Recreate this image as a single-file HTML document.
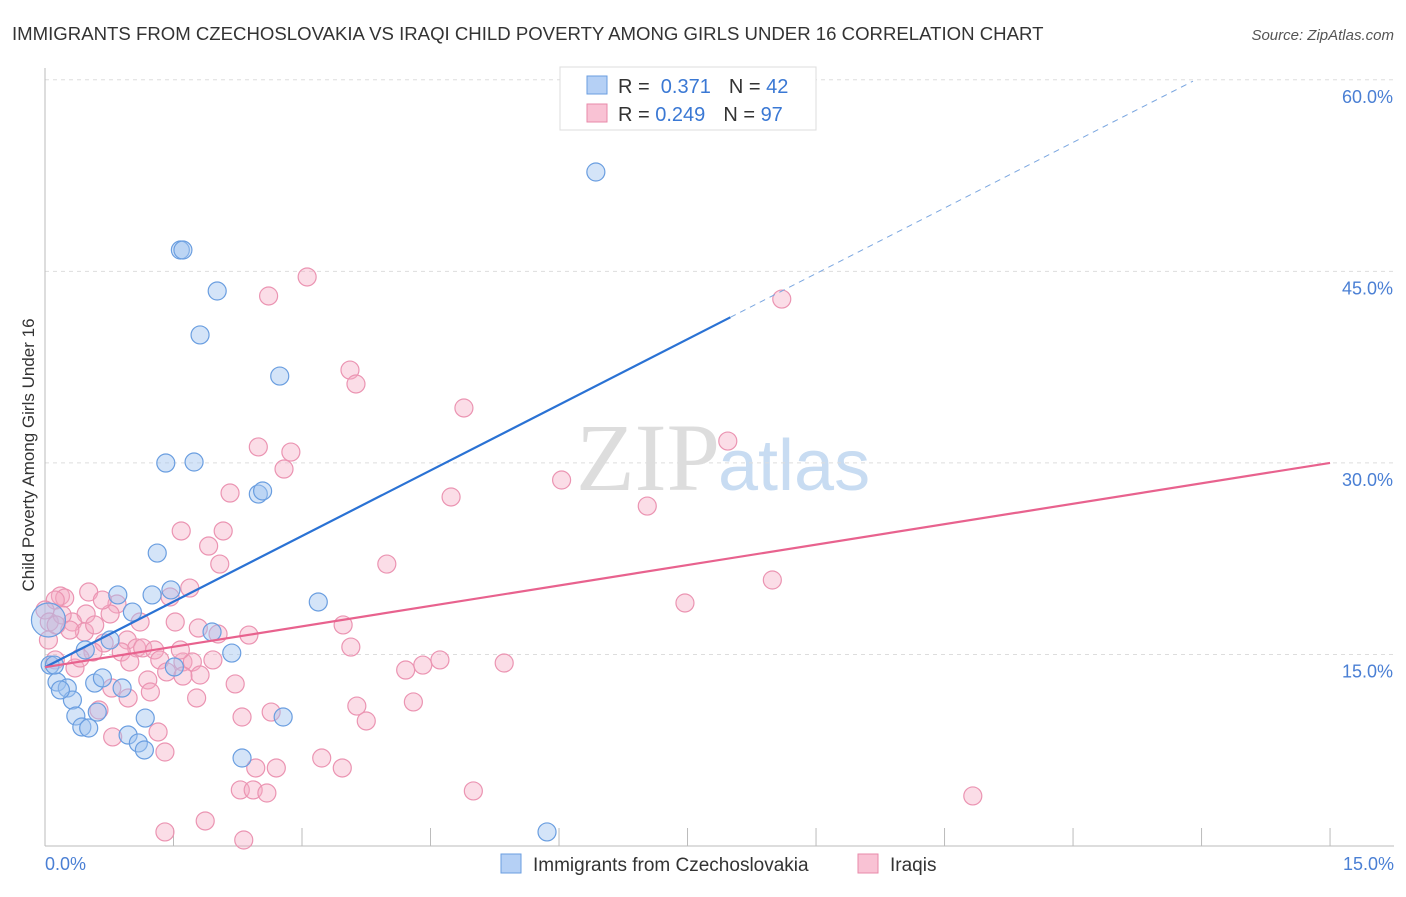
<!DOCTYPE html>
<html><head><meta charset="utf-8"><style>
body{margin:0;background:#fff;font-family:"Liberation Sans",sans-serif}
</style></head><body>
<svg width="1406" height="892" xmlns="http://www.w3.org/2000/svg" style="font-family:'Liberation Sans',sans-serif">
<text x="12" y="40" font-size="18.6" fill="#333">IMMIGRANTS FROM CZECHOSLOVAKIA VS IRAQI CHILD POVERTY AMONG GIRLS UNDER 16 CORRELATION CHART</text>
<text x="1394" y="40" font-size="15" fill="#555" text-anchor="end" font-style="italic">Source: ZipAtlas.com</text>
<text x="720" y="490" font-size="96" fill="#ddd" text-anchor="end" font-family="Liberation Serif,serif">ZIP</text>
<text x="718" y="490" font-size="72" fill="#c8dcf2">atlas</text>
<g id="grid"></g>
<g id="axes"></g>
<g id="pts"></g>
<g id="lines"></g>
<text x="34" y="455" font-size="17" fill="#333" text-anchor="middle" transform="rotate(-90 34 455)">Child Poverty Among Girls Under 16</text>
<text x="45" y="870" font-size="18" fill="#4a7fd4">0.0%</text>
<text x="1394" y="870" font-size="18" fill="#4a7fd4" text-anchor="end">15.0%</text>
<g>
<rect x="560" y="67" width="256" height="63" fill="#fff" stroke="#ddd"/>
<rect x="587" y="76" width="20" height="18" fill="#b5d0f5" stroke="#6a9ee0"/>
<rect x="587" y="104" width="20" height="18" fill="#f9c2d4" stroke="#e88aaa"/>
<text x="618" y="93" font-size="20" fill="#333">R = <tspan fill="#3a78d4">&#160;0.371</tspan><tspan dx="18" fill="#333">N = </tspan><tspan fill="#3a78d4">42</tspan></text>
<text x="618" y="121" font-size="20" fill="#333">R = <tspan fill="#3a78d4">0.249</tspan><tspan dx="18" fill="#333">N = </tspan><tspan fill="#3a78d4">97</tspan></text>
</g>
<g><rect x="501" y="854" width="20" height="19" fill="#b5d0f5" stroke="#6a9ee0"/><text x="533" y="871" font-size="19" fill="#333">Immigrants from Czechoslovakia</text></g>
<g><rect x="858" y="854" width="20" height="19" fill="#f9c2d4" stroke="#e88aaa"/><text x="890" y="871" font-size="19" fill="#333">Iraqis</text></g>
</svg>
<script>
const yTicks=[15,30,45,60];
const xTickVals=[0,1.5,3,4.5,6,7.5,9,10.5,12,13.5,15];
const blueX=[6.43,1.58,1.61,2.01,1.81,2.74,1.41,1.74,2.49,2.54,1.31,3.19,1.47,1.25,0.85,1.02,0.76,1.95,2.18,0.47,1.51,0.06,0.14,0.26,0.32,0.58,0.67,0.90,0.61,0.36,0.43,0.51,1.17,0.97,1.09,1.16,2.30,2.78,5.86,0.04,0.11,0.18];
const blueY=[52.78,46.67,46.67,43.46,40.02,36.80,29.99,30.07,27.56,27.80,22.94,19.11,20.05,19.66,19.66,18.32,16.13,16.76,15.11,15.35,14.02,14.17,12.84,12.37,11.43,12.76,13.16,12.37,10.49,10.18,9.32,9.24,10.02,8.69,8.07,7.52,6.89,10.10,1.10,17.70,14.17,12.22];
const pinkX=[3.06,2.61,8.60,3.56,3.63,4.89,7.97,2.49,2.87,2.79,6.03,4.74,2.16,7.03,1.59,2.08,1.91,2.04,3.99,8.49,0.51,0.18,0.23,0.12,1.69,1.46,0.84,7.47,0.00,0.48,0.76,1.11,1.52,0.05,0.32,0.46,1.79,3.48,2.02,2.38,3.57,0.96,0.69,1.07,1.14,1.28,0.56,0.89,1.34,1.61,0.12,1.96,1.72,0.35,1.42,1.81,1.61,2.22,1.20,1.23,0.78,0.63,0.97,1.77,4.21,4.41,4.61,5.36,3.64,4.30,2.64,2.30,3.75,1.32,0.79,3.23,3.47,2.46,2.70,1.40,2.28,2.43,2.59,5.00,10.83,1.87,1.40,2.32,0.04,0.20,0.29,0.13,0.41,0.99,0.67,1.58,0.58];
const pinkY=[44.56,43.07,42.83,37.27,36.18,34.30,31.71,31.25,30.85,29.52,28.66,27.33,27.64,26.62,24.67,24.67,23.49,22.08,22.08,20.83,19.89,19.58,19.42,19.26,20.20,19.50,18.95,19.03,18.48,18.17,18.17,17.54,17.54,17.54,17.54,16.76,17.07,17.31,16.60,16.52,15.58,16.13,15.90,15.51,15.51,15.35,15.19,15.19,14.57,14.41,14.57,14.57,14.41,13.94,13.63,13.39,13.31,12.69,13.00,12.06,12.37,10.65,11.59,11.59,13.78,14.17,14.57,14.33,10.96,11.28,10.49,10.10,9.79,8.93,8.54,6.89,6.11,6.11,6.11,7.36,4.39,4.39,4.15,4.31,3.92,1.96,1.10,0.47,16.13,18.09,16.91,17.31,14.72,14.41,19.26,15.35,17.31];
const blueLine=[14.0,41.4,8.0];
const pinkLine=[14.0,30.0,15];
const X=v=>45+v*85.67, Y=v=>846-v*12.77;
const NS='http://www.w3.org/2000/svg';
function mk(t,a,p){const e=document.createElementNS(NS,t);for(const k in a)e.setAttribute(k,a[k]);document.getElementById(p).appendChild(e);return e;}
yTicks.forEach(t=>{
 const g=mk('line',{x1:45,x2:1394,y1:Y(t),y2:Y(t),stroke:'#ddd','stroke-dasharray':'4,4'},'grid');
 
 
 const l=mk('text',{x:1393,y:Y(t)+23,'font-size':18,fill:'#4a7fd4','text-anchor':'end'},'grid');l.textContent=t.toFixed(1)+'%';
 
 
});
const ax=mk('line',{x1:45,x2:45,y1:68,y2:846,stroke:'#bbb'},'axes');


const bx=mk('line',{x1:45,x2:1394,y1:846,y2:846,stroke:'#bbb'},'axes');


xTickVals.forEach(t=>{const e=mk('line',{x1:X(t),x2:X(t),y1:828,y2:846,stroke:'#bbb'},'axes');
 
 });
pinkX.forEach((x,i)=>{const c=mk('circle',{cx:X(x),cy:Y(pinkY[i]),r:9,fill:'rgba(246,170,196,0.4)',stroke:'#eb94b2','stroke-width':1.2},'pts');
 
 });
blueX.forEach((x,i)=>{const c=mk('circle',{cx:X(x),cy:Y(blueY[i]),r:i==39?17:9,fill:'rgba(160,196,240,0.45)',stroke:'#6a9ee0','stroke-width':1.2},'pts');
 
 });
const slope=(blueLine[1]-blueLine[0])/blueLine[2];
const b1=mk('line',{x1:X(0),y1:Y(blueLine[0]),x2:X(blueLine[2]),y2:Y(blueLine[1]),stroke:'#2a72d4','stroke-width':2.2},'lines');


const xe=13.4;
const b2=mk('line',{x1:X(blueLine[2]),y1:Y(blueLine[1]),x2:X(xe),y2:Y(blueLine[0]+slope*xe),stroke:'#7aa6e0','stroke-width':1,'stroke-dasharray':'6,5'},'lines');


const p1=mk('line',{x1:X(0),y1:Y(pinkLine[0]),x2:X(pinkLine[2]),y2:Y(pinkLine[1]),stroke:'#e8628e','stroke-width':2.2},'lines');


</script>
</body></html>
